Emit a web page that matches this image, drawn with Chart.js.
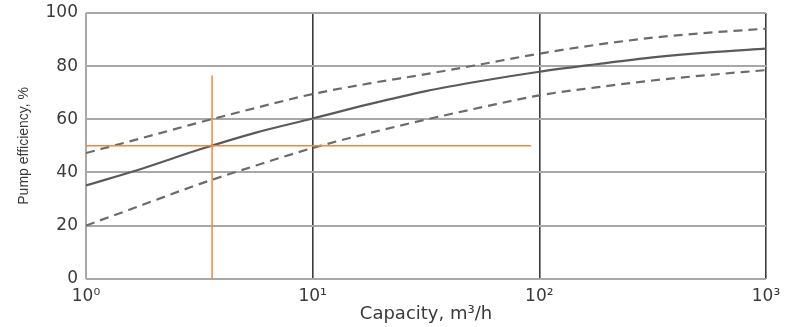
<!DOCTYPE html>
<html>
<head>
<meta charset="utf-8">
<script src="https://cdn.jsdelivr.net/npm/chart.js@4/dist/chart.umd.min.js"></script>
<style>
  html, body { margin: 0; padding: 0; background: #ffffff; }
  #wrap { width: 785px; height: 327px; }
</style>
</head>
<body>
<div id="wrap"><canvas id="c" width="785" height="327"></canvas></div>
<script>
// Capacity values (m3/h), log-spaced sample points
const capacity = [1, 1.778, 3.162, 5.623, 10, 17.78, 31.62, 56.23, 100, 177.8, 316.2, 562.3, 1000];
// Pump efficiency, % (solid mean curve)
const effMean  = [35.1, 41.5, 48.6, 55.0, 60.3, 65.7, 70.6, 74.5, 77.9, 80.7, 83.3, 85.2, 86.6];
// Upper dashed band
const effUpper = [47.3, 53.0, 58.8, 64.3, 69.5, 73.5, 77.0, 80.8, 84.7, 88.0, 90.7, 92.6, 94.1];
// Lower dashed band
const effLower = [20.0, 27.8, 35.6, 42.6, 49.2, 54.8, 59.9, 64.6, 69.0, 72.0, 74.6, 76.7, 78.5];

// Orange guide lines
const guideVx = [3.6, 3.6];
const guideVy = [0, 76.5];
const guideHx = [1, 92];
const guideHy = [50, 50];

// Axis ticks
const xTickValues = [1, 10, 100, 1000];
const xTickLabels = ['10⁰', '10¹', '10²', '10³'];
const yTickValues = [0, 20, 40, 60, 80, 100];

const pts = (xs, ys) => xs.map((x, i) => ({ x: x, y: ys[i] }));

const curveGray = '#6b6b6b';
const orange = '#f0883c';

new Chart(document.getElementById('c'), {
  type: 'line',
  data: {
    datasets: [
      { data: pts(guideVx, guideVy), borderColor: orange, borderWidth: 1.5, pointRadius: 0, tension: 0 },
      { data: pts(guideHx, guideHy), borderColor: orange, borderWidth: 1.5, pointRadius: 0, tension: 0 },
      { data: pts(capacity, effUpper), borderColor: curveGray, borderWidth: 2.2, borderDash: [9, 6], pointRadius: 0, cubicInterpolationMode: 'monotone' },
      { data: pts(capacity, effLower), borderColor: curveGray, borderWidth: 2.2, borderDash: [9, 6], pointRadius: 0, cubicInterpolationMode: 'monotone' },
      { data: pts(capacity, effMean), borderColor: '#5a5a5a', borderWidth: 2.2, pointRadius: 0, cubicInterpolationMode: 'monotone' }
    ]
  },
  options: {
    responsive: false,
    animation: false,
    events: [],
    layout: { padding: { top: 13, right: 19, left: 0, bottom: 0 } },
    plugins: { legend: { display: false }, tooltip: { enabled: false } },
    scales: {
      x: {
        type: 'logarithmic',
        min: 1,
        max: 1000,
        afterBuildTicks: (s) => { s.ticks = xTickValues.map(v => ({ value: v })); },
        afterFit: (s) => { s.height = 48.3; s.paddingLeft = 0; s.paddingRight = 0; },
        border: { display: false },
        grid: {
          drawTicks: false,
          color: (ctx) => ctx.index === 0 ? '#a8a8a8' : '#3c3c3c',
          lineWidth: (ctx) => ctx.index === 0 ? 2 : 1.6
        },
        ticks: {
          padding: 8,
          maxRotation: 0,
          autoSkip: false,
          color: '#3a3a3a',
          font: { family: 'DejaVu Sans', size: 17 },
          callback: (v) => {
            const i = xTickValues.indexOf(v);
            return i >= 0 ? xTickLabels[i] : '';
          }
        },
        title: {
          display: true,
          text: 'Capacity, m³/h',
          color: '#3a3a3a',
          font: { family: 'DejaVu Sans', size: 18 },
          padding: { top: 0, bottom: 2 }
        }
      },
      y: {
        min: 0,
        max: 100,
        afterBuildTicks: (s) => { s.ticks = yTickValues.map(v => ({ value: v })); },
        afterFit: (s) => { s.width = 86; s.paddingTop = 0; s.paddingBottom = 0; },
        border: { display: false },
        grid: {
          drawTicks: false,
          color: '#a8a8a8',
          lineWidth: 2
        },
        ticks: {
          padding: 8,
          color: '#3a3a3a',
          font: { family: 'DejaVu Sans', size: 17 }
        },
        title: {
          display: true,
          text: 'Pump efficiency, %',
          color: '#3a3a3a',
          font: { family: 'Liberation Sans', size: 14 },
          padding: { top: 16, bottom: 0 }
        }
      }
    }
  }
});
</script>
</body>
</html>
